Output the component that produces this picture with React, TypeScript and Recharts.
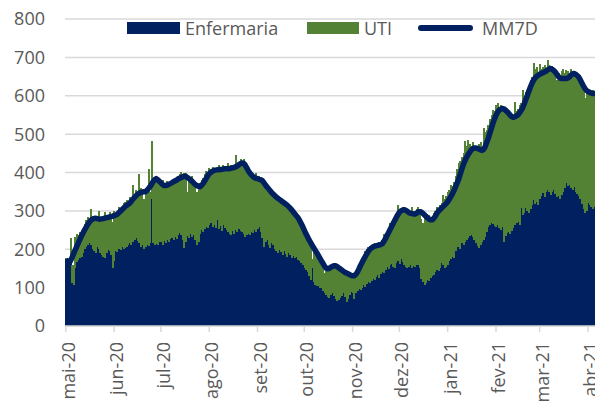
import React from "react";
import { ComposedChart, Bar, Line, XAxis, YAxis, CartesianGrid } from "recharts";

const NAVY = "#002060";
const GREEN = "#548235";
const TEXT = "#595959";
const GRID = "#d9d9d9";
const FONT = "'Open Sans', sans-serif";

// daily values from 1 May 2020 to 5 Apr 2021
const ENFERMARIA = [
  175, 176, 174, 165, 112, 108, 150, 168, 172, 177,
  180, 190, 200, 207, 212, 216, 210, 200, 195, 190,
  205, 200, 190, 185, 181, 178, 190, 198, 195, 185,
  151, 170, 195, 194, 200, 198, 205, 200, 202, 205,
  212, 216, 210, 218, 225, 229, 222, 215, 205, 210,
  200, 205, 212, 208, 215, 330, 216, 212, 214, 210,
  220, 218, 212, 222, 215, 224, 218, 226, 230, 224,
  233, 228, 236, 242, 238, 225, 203, 220, 235, 230,
  240, 232, 238, 225, 211, 218, 240, 250, 245, 252,
  259, 255, 262, 268, 258, 262, 255, 276, 252, 260,
  248, 262, 255, 250, 245, 240, 237, 248, 240, 250,
  245, 252, 248, 245, 240, 232, 237, 240, 238, 245,
  242, 250, 245, 252, 259, 245, 230, 207, 218, 225,
  212, 203, 215, 210, 200, 195, 190, 198, 192, 186,
  195, 188, 181, 190, 185, 178, 182, 176, 180, 173,
  170, 165, 158, 150, 147, 140, 130, 121, 151, 115,
  108, 105, 103, 100, 99, 92, 85, 81, 75, 72,
  80, 85, 78, 70, 64, 68, 72, 78, 85, 75,
  63, 70, 80, 89, 85, 70, 85, 92, 97, 95,
  100, 106, 102, 110, 115, 112, 118, 123, 120, 128,
  132, 125, 135, 140, 138, 145, 153, 148, 158, 162,
  155, 150, 165, 170, 162, 174, 168, 160, 155, 150,
  153, 158, 152, 157, 155, 160, 158, 150, 123, 115,
  108, 112, 120, 118, 125, 130, 134, 140, 147, 143,
  150, 164, 158, 150, 155, 160, 170, 175, 181, 178,
  195, 205, 207, 200, 215, 212, 220, 225, 230, 235,
  238, 232, 225, 216, 208, 203, 212, 220, 225, 233,
  245, 259, 262, 268, 265, 260, 258, 262, 255, 250,
  258, 220, 235, 242, 245, 240, 248, 255, 263, 268,
  272, 263, 307, 290, 295, 307, 300, 294, 305, 315,
  329, 318, 322, 315, 330, 340, 346, 335, 350, 355,
  348, 342, 350, 355, 345, 335, 338, 330, 342, 350,
  360, 372, 365, 368, 360, 355, 362, 350, 345, 340,
  330, 318, 305, 294, 300, 320, 315, 311, 305, 310,
];

const UTI = [
  2, 2, 2, 64, 48, 50, 82, 72, 65, 68,
  58, 60, 65, 68, 73, 64, 94, 76, 87, 85,
  75, 100, 88, 85, 104, 120, 86, 89, 103, 95,
  119, 130, 95, 101, 109, 102, 101, 120, 122, 123,
  103, 121, 120, 149, 120, 126, 118, 181, 154, 138,
  130, 150, 140, 202, 135, 153, 156, 168, 171, 165,
  162, 152, 168, 138, 155, 154, 147, 149, 150, 148,
  152, 150, 154, 153, 164, 165, 195, 180, 115, 160,
  145, 160, 137, 145, 139, 154, 125, 130, 140, 143,
  146, 145, 150, 140, 157, 143, 157, 134, 168, 152,
  160, 157, 160, 160, 180, 172, 183, 167, 178, 195,
  175, 173, 187, 185, 194, 188, 173, 160, 160, 150,
  150, 135, 155, 136, 133, 140, 150, 171, 152, 140,
  146, 157, 135, 135, 137, 145, 145, 132, 136, 136,
  125, 130, 134, 120, 127, 122, 113, 109, 110, 103,
  110, 105, 97, 100, 93, 85, 100, 90, 24, 85,
  82, 80, 72, 72, 65, 68, 53, 69, 71, 78,
  75, 73, 72, 90, 91, 80, 78, 62, 60, 63,
  72, 70, 48, 46, 45, 55, 55, 58, 63, 70,
  75, 79, 93, 90, 90, 97, 82, 87, 95, 77,
  80, 95, 80, 85, 102, 98, 92, 107, 110, 108,
  120, 135, 125, 145, 143, 126, 142, 147, 145, 155,
  142, 142, 159, 138, 145, 145, 152, 150, 157, 153,
  182, 163, 165, 172, 155, 155, 161, 160, 163, 162,
  165, 156, 184, 180, 183, 190, 185, 193, 184, 197,
  195, 205, 217, 230, 225, 238, 261, 245, 255, 240,
  232, 248, 240, 254, 252, 272, 268, 250, 290, 272,
  265, 266, 278, 282, 298, 300, 317, 318, 315, 325,
  302, 350, 330, 318, 310, 305, 302, 285, 322, 292,
  293, 312, 273, 325, 305, 303, 315, 326, 335, 335,
  357, 352, 354, 345, 354, 330, 329, 345, 322, 338,
  332, 333, 328, 310, 310, 306, 322, 320, 323, 321,
  300, 296, 300, 292, 310, 310, 298, 305, 305, 300,
  300, 307, 310, 299, 320, 295, 295, 294, 310, 290,
];

const MM7D: (number | null)[] = [
  null, null, 162, 170, 178, 188, 198, 207, 216, 225,
  234, 242, 250, 257, 264, 270, 275, 278, 280, 281,
  280, 279, 278, 279, 280, 281, 282, 283, 284, 285,
  286, 288, 289, 291, 295, 299, 303, 307, 311, 314,
  317, 320, 325, 330, 335, 339, 343, 346, 348, 349,
  350, 350, 353, 358, 363, 369, 376, 381, 384, 381,
  377, 373, 369, 366, 366, 367, 369, 371, 373, 376,
  378, 380, 383, 385, 387, 389, 390, 390, 387, 384,
  381, 377, 373, 369, 366, 364, 363, 366, 371, 377,
  384, 391, 397, 400, 403, 405, 406, 407, 407, 408,
  408, 409, 410, 410, 410, 410, 411, 412, 413, 415,
  417, 420, 423, 425, 424, 420, 413, 405, 399, 394,
  390, 387, 385, 384, 382, 381, 379, 374, 368, 363,
  358, 353, 348, 344, 340, 336, 333, 330, 327, 324,
  321, 318, 315, 311, 307, 302, 297, 292, 287, 282,
  275, 267, 259, 250, 241, 233, 225, 218, 211, 204,
  197, 191, 184, 177, 170, 163, 156, 151, 149, 150,
  153, 155, 157, 157, 155, 152, 149, 146, 143, 140,
  138, 136, 134, 132, 131, 131, 134, 140, 148, 157,
  165, 173, 180, 187, 194, 199, 203, 206, 208, 209,
  210, 211, 212, 214, 220, 227, 235, 243, 251, 259,
  267, 275, 283, 290, 296, 300, 302, 303, 302, 299,
  296, 294, 293, 292, 292, 294, 297, 298, 297, 294,
  290, 286, 282, 279, 277, 277, 280, 286, 293, 299,
  303, 307, 311, 315, 319, 324, 330, 337, 344, 353,
  362, 372, 382, 395, 408, 420, 430, 439, 446, 452,
  458, 462, 464, 464, 463, 461, 459, 458, 460, 467,
  478, 489, 502, 515, 528, 539, 549, 557, 562, 565,
  567, 566, 563, 559, 555, 550, 546, 544, 545, 547,
  550, 555, 561, 568, 578, 589, 600, 611, 622, 632,
  640, 646, 650, 653, 656, 658, 660, 662, 664, 667,
  670, 671, 669, 666, 662, 656, 650, 646, 645, 645,
  645, 645, 646, 649, 653, 657, 658, 656, 653, 649,
  642, 634, 626, 619, 614, 611, 609, 607, 606, 606,
];

const MONTH_LABELS = [
  "mai-20", "jun-20", "jul-20", "ago-20", "set-20", "out-20",
  "nov-20", "dez-20", "jan-21", "fev-21", "mar-21", "abr-21",
];
const Y_TICKS = [0, 100, 200, 300, 400, 500, 600, 700, 800];

const data = ENFERMARIA.map((enf, i) => {
  const d = new Date(2020, 4, 1 + i);
  return { day: i, first: d.getDate() === 1, enfermaria: enf, uti: UTI[i], mm7d: MM7D[i] };
});
const monthTicks = data.filter((r) => r.first).map((r) => r.day);

function MonthTick(props: any) {
  const { x, y, payload } = props;
  const idx = monthTicks.indexOf(payload.value);
  const ty = y + 8;
  return (
    <text
      x={x}
      y={ty}
      dy={9}
      transform={`rotate(-90 ${x} ${ty})`}
      textAnchor="end"
      fill={TEXT}
      fontSize={18}
      fontFamily={FONT}
    >
      {MONTH_LABELS[idx]}
    </text>
  );
}

function LegendOverlay() {
  const label: React.CSSProperties = {
    position: "absolute",
    top: 16,
    fontFamily: FONT,
    fontSize: 18,
    color: TEXT,
    lineHeight: "24px",
  };
  return (
    <>
      <div style={{ position: "absolute", left: 127, top: 22, width: 53, height: 12, background: NAVY }} />
      <div style={{ ...label, left: 185 }}>Enfermaria</div>
      <div style={{ position: "absolute", left: 307, top: 22, width: 52, height: 12, background: GREEN }} />
      <div style={{ ...label, left: 364 }}>UTI</div>
      <div style={{ position: "absolute", left: 418, top: 25, width: 55, height: 6, borderRadius: 3, background: NAVY }} />
      <div style={{ ...label, left: 482 }}>MM7D</div>
    </>
  );
}

export default function App() {
  return (
    <div style={{ position: "absolute", left: 0, top: 0, width: 595, height: 405, overflow: "hidden", background: "#fff" }}>
      <ComposedChart
        width={595}
        height={405}
        data={data}
        margin={{ top: 19, right: 0, left: 0, bottom: 0 }}
        barCategoryGap={0}
        barGap={0}
      >
        <CartesianGrid stroke={GRID} strokeWidth={1.5} vertical={false} />
        <XAxis
          dataKey="day"
          type="category"
          ticks={monthTicks}
          interval={0}
          height={79}
          axisLine={{ stroke: GRID, strokeWidth: 1.5 }}
          tickLine={{ stroke: GRID, strokeWidth: 1.5 }}
          tickSize={6}
          tick={<MonthTick />}
        />
        <YAxis
          domain={[0, 800]}
          ticks={Y_TICKS}
          width={65}
          axisLine={false}
          tickLine={false}
          tickSize={0}
          tickMargin={20}
          tick={{ fill: TEXT, fontSize: 18, fontFamily: FONT }}
        />
        <Bar dataKey="enfermaria" stackId="a" fill={NAVY} isAnimationActive={false} shapeRendering="crispEdges" />
        <Bar dataKey="uti" stackId="a" fill={GREEN} isAnimationActive={false} shapeRendering="crispEdges" />
        <Line
          dataKey="mm7d"
          type="linear"
          stroke={NAVY}
          strokeWidth={5.5}
          strokeLinecap="round"
          strokeLinejoin="round"
          dot={false}
          activeDot={false}
          isAnimationActive={false}
        />
      </ComposedChart>
      <LegendOverlay />
    </div>
  );
}
